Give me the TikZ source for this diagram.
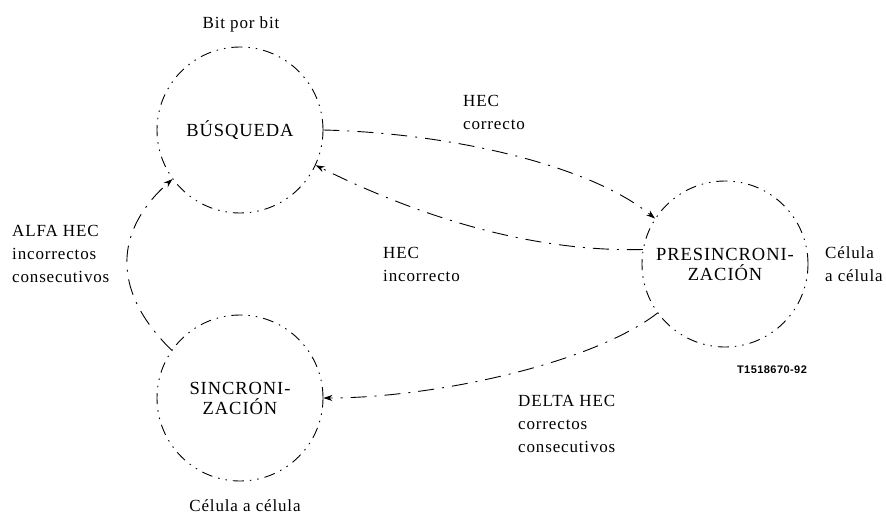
\documentclass[tikz,border=0pt]{standalone}
\usepackage{fontspec}
\setmainfont{Liberation Serif}[LetterSpace=5]
\newfontfamily\codefont{Liberation Sans}[LetterSpace=4]
\usetikzlibrary{arrows.meta}
\begin{document}
\begin{tikzpicture}[x=1pt,y=-1pt,
  statebox/.style={circle,draw,line width=0.9pt,minimum size=166pt,inner sep=0pt,
    dash pattern=on 11pt off 6pt on 1.5pt off 6pt on 1.5pt off 6pt,
    align=center,font=\fontsize{18.5}{20}\selectfont},
  link/.style={line width=0.9pt,dash pattern=on 16pt off 8pt on 2pt off 8pt,
    -{Stealth[length=9pt,width=6pt]}},
  lbl/.style={inner sep=0pt,align=left,font=\fontsize{17}{23}\selectfont},
]
\useasboundingbox (0,0) rectangle (886,515);
\node[statebox] (b) at (240,130) {BÚSQUEDA};
\node[statebox] (p) at (725,264) {PRESINCRONI-\\ZACIÓN};
\node[statebox] (s) at (240,398) {SINCRONI-\\ZACIÓN};

\node[lbl,anchor=center] (bl) at (241,24) {Bit por bit};
\node[lbl,anchor=center] (sl) at (245,506) {Célula a célula};
\node[lbl,anchor=north west] (pl) at (825,246) {Célula\\a célula};
\node[inner sep=0pt,font=\codefont\bfseries\fontsize{11}{12}\selectfont] (code) at (772,370) {T1518670-92};

\node[lbl,anchor=north west] (l1) at (463,95) {HEC\\correcto};
\node[lbl,anchor=north west] (l2) at (383,247) {HEC\\incorrecto};
\node[lbl,anchor=north west] (l3) at (12,225) {ALFA HEC\\incorrectos\\consecutivos};
\node[lbl,anchor=north west] (l4) at (518,395) {DELTA HEC\\correctos\\consecutivos};

\draw[link] (b.east) .. controls (450,133) and (590,165) .. (p.147);
\draw[link] (p.170) .. controls (540,252) and (430,222) .. (b.-25);
\draw[link] (p.216) .. controls (590,365) and (430,398) .. (s.east);
\draw[link] (s.145) .. controls (110,290) and (115,230) .. (b.216);
\end{tikzpicture}
\end{document}
